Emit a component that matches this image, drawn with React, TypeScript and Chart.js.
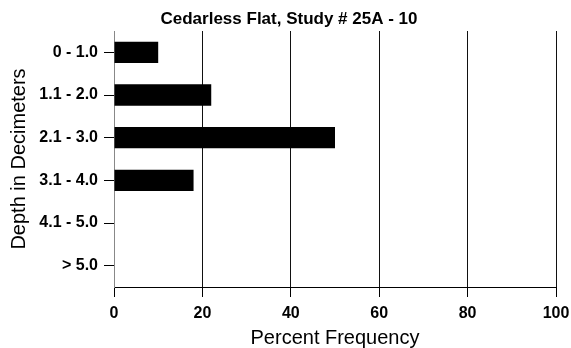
import React, { useEffect, useRef } from "react";
import { Chart, registerables } from "chart.js";

Chart.register(...registerables);

const categories = ["0 - 1.0", "1.1 - 2.0", "2.1 - 3.0", "3.1 - 4.0", "4.1 - 5.0", "> 5.0"];
const percentFrequency = [10, 22, 50, 18, 0, 0];
const xTickValues = [0, 20, 40, 60, 80, 100];
const chartTitle = "Cedarless Flat, Study # 25A - 10";
const xAxisTitle = "Percent Frequency";
const yAxisTitle = "Depth in Decimeters";

const FONT = "'Liberation Sans', Arial, Helvetica, sans-serif";

export default function App() {
  const canvasRef = useRef<HTMLCanvasElement | null>(null);

  useEffect(() => {
    document.body.style.margin = "0";
    const canvas = canvasRef.current;
    if (!canvas) return;
    const chart = new Chart(canvas, {
      type: "bar",
      data: {
        labels: categories,
        datasets: [
          {
            data: percentFrequency,
            backgroundColor: "#000000",
            borderWidth: 0,
            barPercentage: 0.5,
            categoryPercentage: 1,
          },
        ],
      },
      options: {
        indexAxis: "y",
        animation: false,
        responsive: false,
        maintainAspectRatio: false,
        layout: { padding: { left: 7, right: 0, top: 0, bottom: 0 } },
        plugins: {
          legend: { display: false },
          tooltip: { enabled: false },
          title: {
            display: true,
            text: chartTitle,
            color: "#000",
            font: { family: FONT, size: 17, weight: "bold", lineHeight: 1.2 },
            padding: { top: 9, bottom: 1.6 },
          },
        },
        scales: {
          x: {
            type: "linear",
            min: 0,
            max: 100,
            afterBuildTicks: (scale: any) => {
              scale.ticks = xTickValues.map((v) => ({ value: v }));
            },
            afterFit: (scale: any) => {
              scale.height = 61;
              scale.paddingRight = 15;
              scale.paddingLeft = 0;
            },
            ticks: {
              color: "#000",
              padding: 7,
              font: { family: FONT, size: 16, weight: "bold" },
              maxRotation: 0,
            },
            grid: {
              color: (ctx: any) => (ctx.tick && ctx.tick.value === 0 ? "rgba(0,0,0,0)" : "#111"),
              tickColor: "#000",
              tickLength: 10,
              lineWidth: 1,
            },
            border: { display: true, color: "#000", width: 1 },
            title: {
              display: true,
              text: xAxisTitle,
              color: "#000",
              font: { family: FONT, size: 20, lineHeight: 1 },
              padding: { top: 0, bottom: 0 },
            },
          },
          y: {
            type: "category",
            afterFit: (scale: any) => {
              scale.width = 107;
              scale.paddingTop = 0;
              scale.paddingBottom = 0;
            },
            ticks: {
              color: "#000",
              padding: 6,
              font: { family: FONT, size: 16, weight: "bold" },
            },
            grid: {
              offset: false,
              drawOnChartArea: false,
              drawTicks: true,
              tickLength: 10,
              tickColor: "#000",
            },
            border: { display: true, color: "#888", width: 1 },
            title: {
              display: true,
              text: yAxisTitle,
              color: "#000",
              font: { family: FONT, size: 20, lineHeight: 1 },
              padding: { top: 2, bottom: 0 },
            },
          },
        },
      },
    });
    return () => chart.destroy();
  }, []);

  return (
    <div style={{ position: "absolute", left: 0, top: 0, width: 571, height: 348 }}>
      <canvas ref={canvasRef} width={571} height={348} style={{ display: "block" }} />
    </div>
  );
}
